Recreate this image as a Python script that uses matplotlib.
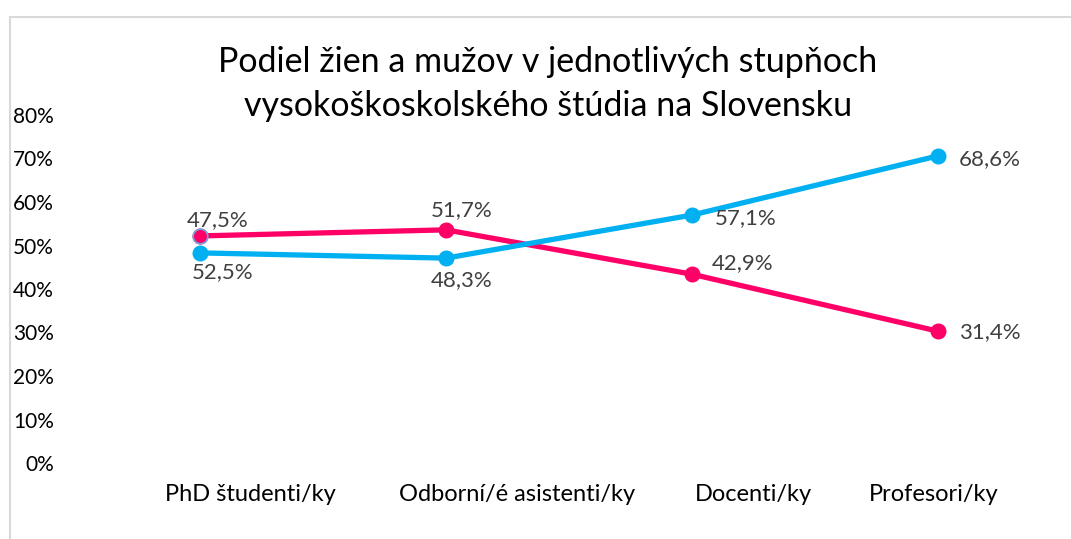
import matplotlib
matplotlib.use("Agg")
import matplotlib.pyplot as plt
from matplotlib.patches import Rectangle

plt.rcParams['font.family'] = ['Lato', 'DejaVu Sans']

categories = ["PhD študenti/ky", "Odborní/é asistenti/ky", "Docenti/ky", "Profesori/ky"]
pink_values = [0.522, 0.536, 0.434, 0.303]
blue_values = [0.483, 0.471, 0.570, 0.706]
pink_labels = ["47,5%", "51,7%", "42,9%", "31,4%"]
blue_labels = ["52,5%", "48,3%", "57,1%", "68,6%"]
y_ticks = [0, 0.1, 0.2, 0.3, 0.4, 0.5, 0.6, 0.7, 0.8]
y_tick_labels = ["0%", "10%", "20%", "30%", "40%", "50%", "60%", "70%", "80%"]
title = "Podiel žien a mužov v jednotlivých stupňoch\nvysokoškoskolského štúdia na Slovensku"

PINK = "#FF0066"
BLUE = "#00B0F0"
LABEL_COLOR = "#404040"

W, H = 1071, 539
fig = plt.figure(figsize=(W / 100, H / 100), dpi=100)

# axes placement in pixels
ax_left, ax_right = 62, 1050
ax_bottom, ax_top = 463, 115  # pixel rows of 0% and 80%
ax = fig.add_axes([ax_left / W, (H - ax_bottom) / H,
                   (ax_right - ax_left) / W, (ax_bottom - ax_top) / H])

px_per_unit = (938 - 200) / 3
ax.set_xlim((ax_left - 200) / px_per_unit, (ax_right - 200) / px_per_unit)
ax.set_ylim(0, 0.8)

x = list(range(len(categories)))
ax.plot(x, pink_values, color=PINK, lw=3.8, marker='o', ms=10.5,
        solid_capstyle='round', zorder=3)
ax.plot(x, blue_values, color=BLUE, lw=3.8, marker='o', ms=10.5,
        solid_capstyle='round', zorder=4)
# first pink marker has a light blue outline in the original
ax.plot(x[:1], pink_values[:1], linestyle='none', marker='o', ms=10.5,
        mfc=PINK, mec="#6FA8DC", mew=1.2, zorder=5)

pink_offsets = [(18, 16), (16, 20), (51, 11), (52, -1)]
blue_offsets = [(23, -19), (16, -22), (54, -3), (52, -3)]
for xi, v, lab, off in zip(x, pink_values, pink_labels, pink_offsets):
    ax.annotate(lab, (xi, v), xytext=off, textcoords='offset pixels',
                ha='center', va='center', fontsize=16, color=LABEL_COLOR, zorder=6)
for xi, v, lab, off in zip(x, blue_values, blue_labels, blue_offsets):
    ax.annotate(lab, (xi, v), xytext=off, textcoords='offset pixels',
                ha='center', va='center', fontsize=16, color=LABEL_COLOR, zorder=6)

ax.set_yticks(y_ticks)
ax.set_yticklabels(y_tick_labels, fontsize=15, color="black")
label_px = [250, 517, 753, 934]
ax.set_xticks([(p - 200) / px_per_unit for p in label_px])
ax.set_xticklabels(categories, fontsize=17, color="black")
ax.tick_params(axis='y', length=0, pad=5.8)
ax.tick_params(axis='x', length=0, pad=15)
for s in ax.spines.values():
    s.set_visible(False)
ax.patch.set_alpha(0)

fig.text(548 / W, 1 - 84 / H, title, ha='center', va='center', fontsize=24.5,
         color='black', linespacing=1.45)

# chart frame
fig.add_artist(Rectangle((10 / W, -0.2), 1.2, (H - 17) / H + 0.2,
                         transform=fig.transFigure, fill=False,
                         edgecolor="#D9D9D9", lw=1.5, zorder=0))

fig.savefig("out.png", dpi=100, facecolor='white')
